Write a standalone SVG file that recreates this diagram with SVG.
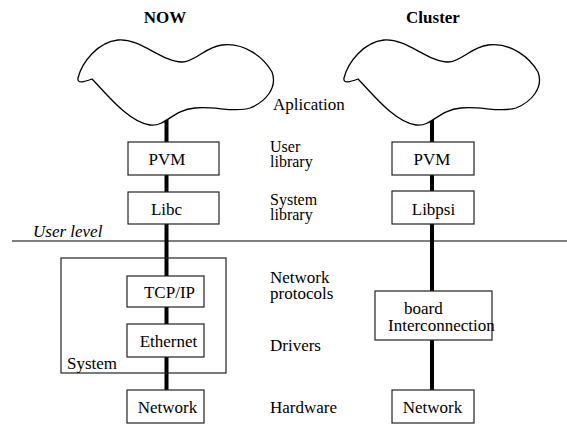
<svg xmlns="http://www.w3.org/2000/svg" width="567" height="424" viewBox="0 0 567 424">
<style>
.box{fill:#fff;stroke:#222;stroke-width:1.2}
.spine{stroke:#000;stroke-width:4;fill:none}
.cloud{fill:#fff;stroke:#000;stroke-width:1.3}
</style>
<g id="connectors">
<line class="spine" x1="166.5" y1="118" x2="166.5" y2="390"/>
<line class="spine" x1="432" y1="118" x2="432" y2="390"/>
</g>
<g id="userlevel">
<line x1="12" y1="241" x2="567" y2="241" stroke="#000" stroke-width="1.2"/>
<text font-family="Liberation Serif" font-size="17" font-style="italic" x="33" y="237">User level</text>
</g>
<text font-family="Liberation Serif" font-size="17" font-weight="bold" text-anchor="middle" x="165" y="23">NOW</text>
<text font-family="Liberation Serif" font-size="17" font-weight="bold" text-anchor="middle" x="433" y="23">Cluster</text>
<g id="cloud-now"><path class="cloud" d="M92 79 C105 92 128 122 150 125 C166 127 172 110 195 108 C215 106 235 113 250 108 C265 102 278 88 272 72 C264 58 245 42 222 45 C205 47 195 62 182 62 C162 62 140 38 118 40 C98 42 82 62 78 78 C77 84 84 82 92 79 Z"/></g>
<g id="cloud-cluster"><path class="cloud" transform="translate(266,0)" d="M92 79 C105 92 128 122 150 125 C166 127 172 110 195 108 C215 106 235 113 250 108 C265 102 278 88 272 72 C264 58 245 42 222 45 C205 47 195 62 182 62 C162 62 140 38 118 40 C98 42 82 62 78 78 C77 84 84 82 92 79 Z"/></g>
<g id="system">
<rect x="61" y="258" width="165" height="115" fill="none" stroke="#222" stroke-width="1.2"/>
<text font-family="Liberation Serif" font-size="17" x="67" y="369">System</text>
</g>
<g id="pvm-now"><rect class="box" x="128" y="142" width="91" height="33"/><text font-family="Liberation Serif" font-size="17" text-anchor="middle" x="167" y="165">PVM</text></g>
<g id="libc"><rect class="box" x="128" y="192" width="91" height="32"/><text font-family="Liberation Serif" font-size="17" text-anchor="middle" x="166.5" y="215">Libc</text></g>
<g id="tcpip"><rect class="box" x="127" y="276" width="77" height="31"/><text font-family="Liberation Serif" font-size="17" text-anchor="middle" x="169.5" y="298">TCP/IP</text></g>
<g id="ethernet"><rect class="box" x="127" y="324" width="77" height="33"/><text font-family="Liberation Serif" font-size="17" text-anchor="middle" x="168.5" y="347">Ethernet</text></g>
<g id="network-now"><rect class="box" x="127" y="390" width="77" height="33"/><text font-family="Liberation Serif" font-size="17" text-anchor="middle" x="167.5" y="413">Network</text></g>
<g id="pvm-cluster"><rect class="box" x="392" y="142" width="82" height="33"/><text font-family="Liberation Serif" font-size="17" text-anchor="middle" x="432" y="165">PVM</text></g>
<g id="libpsi"><rect class="box" x="392" y="191" width="82" height="33"/><text font-family="Liberation Serif" font-size="17" text-anchor="middle" x="433.5" y="215">Libpsi</text></g>
<g id="interconnection"><rect class="box" x="375" y="291" width="117" height="49"/><text font-family="Liberation Serif" font-size="17" x="404" y="314">board</text><text font-family="Liberation Serif" font-size="17" x="388" y="331">Interconnection</text></g>
<g id="network-cluster"><rect class="box" x="392" y="390" width="82" height="33"/><text font-family="Liberation Serif" font-size="17" text-anchor="middle" x="432.5" y="413">Network</text></g>
<g id="labels">
<text font-family="Liberation Serif" font-size="17" x="273" y="110">Aplication</text>
<text font-family="Liberation Serif" font-size="16" x="270" y="152">User</text>
<text font-family="Liberation Serif" font-size="16" x="270" y="167">library</text>
<text font-family="Liberation Serif" font-size="16" x="270" y="205">System</text>
<text font-family="Liberation Serif" font-size="16" x="270" y="220">library</text>
<text font-family="Liberation Serif" font-size="17" x="270" y="283">Network</text>
<text font-family="Liberation Serif" font-size="17" x="270" y="299">protocols</text>
<text font-family="Liberation Serif" font-size="17" x="270" y="351">Drivers</text>
<text font-family="Liberation Serif" font-size="17" x="270" y="413">Hardware</text>
</g>
</svg>
